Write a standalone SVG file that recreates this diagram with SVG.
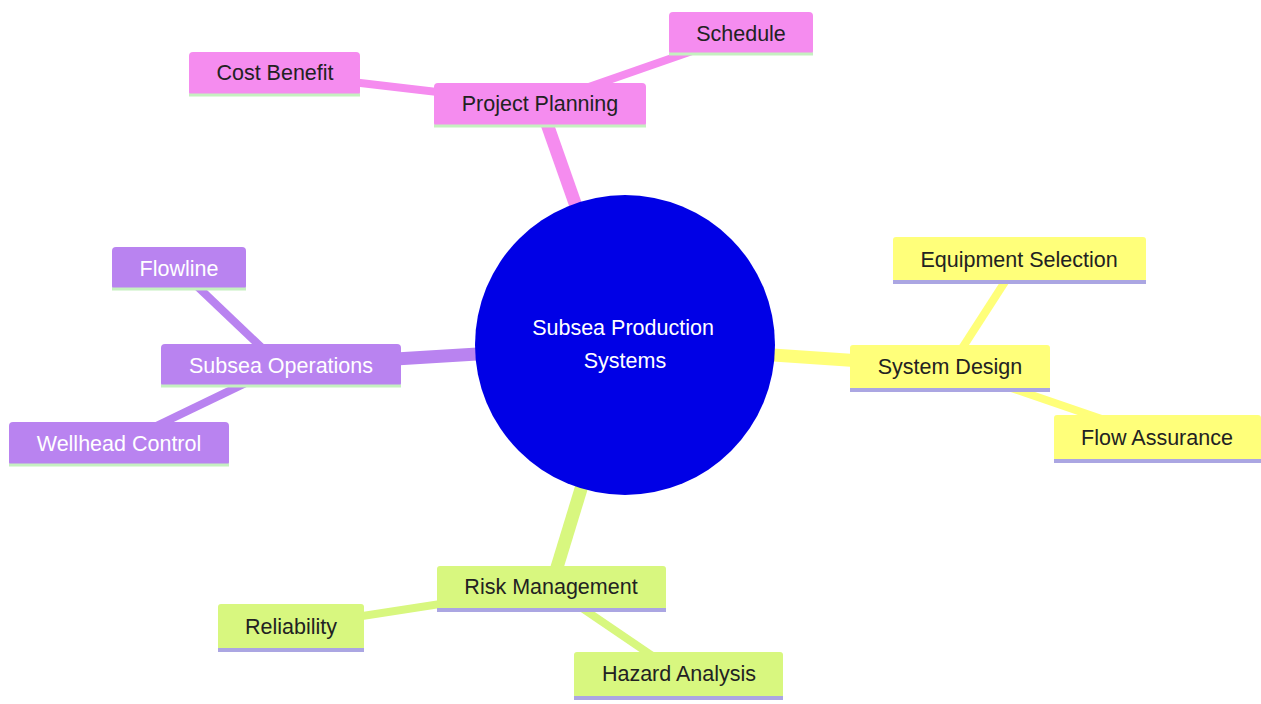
<svg xmlns="http://www.w3.org/2000/svg" width="1261" height="704" viewBox="0 0 1261 704">
<style>
  text { font-family: "Liberation Sans", Arial, sans-serif; font-size: 21.5px; text-anchor: middle; dominant-baseline: central; }
  .dark { fill: #222222; }
  .light { fill: #ffffff; }
  .pink { fill: #f58cef; }
  .purple { fill: #b983f0; }
  .yellow { fill: #ffff7a; }
  .green { fill: #d8f77f; }
  .lpink { stroke: #f58cef; fill: none; stroke-linecap: butt; }
  .lpurple { stroke: #b983f0; fill: none; }
  .lyellow { stroke: #ffff7a; fill: none; }
  .lgreen { stroke: #d8f77f; fill: none; }
  .d1 { stroke-width: 13; }
  .d2 { stroke-width: 8; }
  .ulav { stroke: #aba6e2; stroke-width: 4; }
  .ugrn { stroke: #c5f0c0; stroke-width: 3; }
</style>
<rect width="1261" height="704" fill="#ffffff"/>
<g id="connectors">
  <line class="lpink d1" x1="625" y1="345" x2="540" y2="104"/>
  <line class="lpurple d1" x1="625" y1="345" x2="281" y2="366"/>
  <line class="lyellow d1" x1="625" y1="345" x2="950" y2="367"/>
  <line class="lgreen d1" x1="625" y1="345" x2="551" y2="587"/>
  <line class="lpink d2" x1="540" y1="104" x2="275" y2="73"/>
  <line class="lpink d2" x1="540" y1="104" x2="741" y2="34"/>
  <line class="lpurple d2" x1="281" y1="366" x2="179" y2="269"/>
  <line class="lpurple d2" x1="281" y1="366" x2="119" y2="444"/>
  <line class="lyellow d2" x1="950" y1="367" x2="1019" y2="260"/>
  <line class="lyellow d2" x1="950" y1="367" x2="1157" y2="438"/>
  <line class="lgreen d2" x1="551" y1="587" x2="291" y2="627"/>
  <line class="lgreen d2" x1="551" y1="587" x2="679" y2="674"/>
</g>
<g id="root">
  <circle cx="625" cy="345" r="150" fill="#0000e6"/>
  <text class="light" x="623" y="328">Subsea Production</text>
  <text class="light" x="625" y="361">Systems</text>
</g>
<g id="project-planning">
  <rect class="pink" x="434" y="83" width="212" height="44" rx="4"/>
  <line class="ugrn" x1="434" y1="126" x2="646" y2="126"/>
  <text class="dark" x="540" y="104">Project Planning</text>
</g>
<g id="cost-benefit">
  <rect class="pink" x="189" y="52" width="171" height="44" rx="4"/>
  <line class="ugrn" x1="189" y1="95" x2="360" y2="95"/>
  <text class="dark" x="275" y="73">Cost Benefit</text>
</g>
<g id="schedule">
  <rect class="pink" x="669" y="12" width="144" height="43" rx="4"/>
  <line class="ugrn" x1="669" y1="54" x2="813" y2="54"/>
  <text class="dark" x="741" y="34">Schedule</text>
</g>
<g id="subsea-operations">
  <rect class="purple" x="161" y="344" width="240" height="43" rx="4"/>
  <line class="ugrn" x1="161" y1="386" x2="401" y2="386"/>
  <text class="light" x="281" y="366">Subsea Operations</text>
</g>
<g id="flowline">
  <rect class="purple" x="112" y="247" width="134" height="43" rx="4"/>
  <line class="ugrn" x1="112" y1="289" x2="246" y2="289"/>
  <text class="light" x="179" y="269">Flowline</text>
</g>
<g id="wellhead-control">
  <rect class="purple" x="9" y="422" width="220" height="44" rx="4"/>
  <line class="ugrn" x1="9" y1="465" x2="229" y2="465"/>
  <text class="light" x="119" y="444">Wellhead Control</text>
</g>
<g id="system-design">
  <rect class="yellow" x="850" y="345" width="200" height="45" rx="3"/>
  <line class="ulav" x1="850" y1="390" x2="1050" y2="390"/>
  <text class="dark" x="950" y="367">System Design</text>
</g>
<g id="equipment-selection">
  <rect class="yellow" x="893" y="237" width="253" height="45" rx="3"/>
  <line class="ulav" x1="893" y1="282" x2="1146" y2="282"/>
  <text class="dark" x="1019" y="260">Equipment Selection</text>
</g>
<g id="flow-assurance">
  <rect class="yellow" x="1054" y="415" width="207" height="46" rx="3"/>
  <line class="ulav" x1="1054" y1="461" x2="1261" y2="461"/>
  <text class="dark" x="1157" y="438">Flow Assurance</text>
</g>
<g id="risk-management">
  <rect class="green" x="437" y="566" width="229" height="44" rx="3"/>
  <line class="ulav" x1="437" y1="610" x2="666" y2="610"/>
  <text class="dark" x="551" y="587">Risk Management</text>
</g>
<g id="reliability">
  <rect class="green" x="218" y="604" width="146" height="46" rx="3"/>
  <line class="ulav" x1="218" y1="650" x2="364" y2="650"/>
  <text class="dark" x="291" y="627">Reliability</text>
</g>
<g id="hazard-analysis">
  <rect class="green" x="574" y="652" width="209" height="46" rx="3"/>
  <line class="ulav" x1="574" y1="698" x2="783" y2="698"/>
  <text class="dark" x="679" y="674">Hazard Analysis</text>
</g>
</svg>
